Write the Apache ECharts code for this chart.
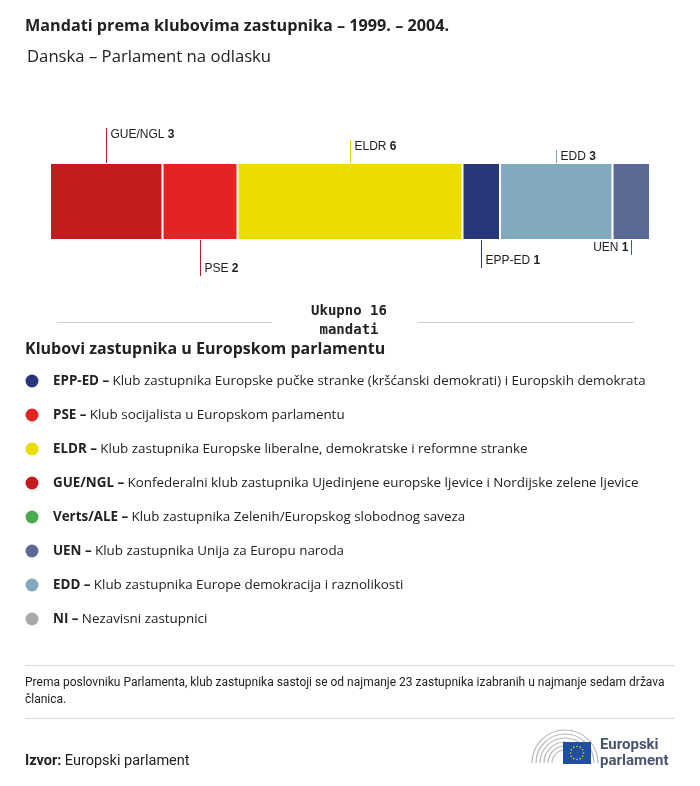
<!DOCTYPE html>
<html>
<head>
<meta charset="utf-8">
<script src="https://cdn.jsdelivr.net/npm/echarts@6/dist/echarts.min.js"></script>
<style>
html,body{margin:0;padding:0;background:#fff;}
#main{width:700px;height:786px;}
</style>
</head>
<body>
<div id="main"></div>
<script>
// ---- data ----
const parties = ['GUE/NGL', 'PSE', 'ELDR', 'EPP-ED', 'EDD', 'UEN'];
const seats = [3, 2, 6, 1, 3, 1];
const totalSeats = 16;

const legendCodes = ['EPP-ED', 'PSE', 'ELDR', 'GUE/NGL', 'Verts/ALE', 'UEN', 'EDD', 'NI'];
const legendNames = [
  'Klub zastupnika Europske pučke stranke (kršćanski demokrati) i Europskih demokrata',
  'Klub socijalista u Europskom parlamentu',
  'Klub zastupnika Europske liberalne, demokratske i reformne stranke',
  'Konfederalni klub zastupnika Ujedinjene europske ljevice i Nordijske zelene ljevice',
  'Klub zastupnika Zelenih/Europskog slobodnog saveza',
  'Klub zastupnika Unija za Europu naroda',
  'Klub zastupnika Europe demokracija i raznolikosti',
  'Nezavisni zastupnici'
];

// ---- styles ----
const partyColors = {
  'EPP-ED': '#28367b', 'PSE': '#e42424', 'ELDR': '#ebdd00', 'GUE/NGL': '#c21c1f',
  'Verts/ALE': '#4caa50', 'UEN': '#5a6a94', 'EDD': '#83a9bf', 'NI': '#aaaaaa'
};
const lineColors = ['#a8262e', '#a8262e', '#e2d21a', '#28367b', '#8aa2b3', '#4b5a7e'];
const labelSide = ['top', 'bottom', 'top', 'bottom', 'top', 'bottom'];
const leaderLen = [35, 36, 23, 28, 13, 15];
const labelAlign = ['left', 'left', 'left', 'left', 'left', 'right'];

const starts = [];
seats.reduce((acc, v, i) => { starts[i] = acc; return acc + v; }, 0);

const chart = echarts.init(document.getElementById('main'), null, {renderer: 'canvas'});

const barSeries = parties.map((p, i) => ({
  type: 'bar',
  name: p,
  stack: 'total',
  data: [seats[i]],
  barWidth: '100%',
  itemStyle: {color: partyColors[p], borderColor: '#fff', borderWidth: 1},
  silent: true,
  animation: false
}));

const labelSeries = {
  type: 'custom',
  silent: true,
  animation: false,
  data: parties.map((p, i) => [starts[i], seats[i], i]),
  renderItem: function (params, api) {
    const i = api.value(2);
    const mid = api.coord([api.value(0) + api.value(1) / 2, 0]);
    const cs = params.coordSys;
    const top = cs.y, bottom = cs.y + cs.height;
    const x = Math.round(mid[0]) + 0.5;
    let y1, y2, ty;
    if (labelSide[i] === 'top') {
      y1 = top - leaderLen[i]; y2 = top; ty = y1 + 7;
    } else {
      y1 = bottom; y2 = bottom + leaderLen[i]; ty = y2 - 7;
    }
    const align = labelAlign[i];
    const tx = align === 'left' ? x + 4 : x - 3;
    return {
      type: 'group',
      children: [
        {type: 'line', shape: {x1: x, y1: y1, x2: x, y2: y2},
         style: {stroke: lineColors[i], lineWidth: 1}},
        {type: 'text', x: tx, y: ty,
         style: {
           text: '{n|' + parties[i] + '} {b|' + seats[i] + '}',
           align: align, verticalAlign: 'middle',
           rich: {
             n: {fontFamily: 'Liberation Sans, Arial', fontSize: 12, fill: '#222'},
             b: {fontFamily: 'Liberation Sans, Arial', fontSize: 12, fontWeight: 'bold', fill: '#222'}
           }
         }}
      ]
    };
  }
};

const FONT = '"Open Sans", "Noto Sans", sans-serif';
const graphics = [];
graphics.push({type: 'text', left: 25, top: 18, style: {text: 'Mandati prema klubovima zastupnika – 1999. – 2004.', font: 'bold 16.2px ' + FONT, fill: '#222'}});
graphics.push({type: 'text', left: 27, top: 49, style: {text: 'Danska – Parlament na odlasku', font: '16.7px ' + FONT, fill: '#222'}});

// total
graphics.push({type: 'line', shape: {x1: 57, y1: 322.5, x2: 272, y2: 322.5}, style: {stroke: '#cfcfcf', lineWidth: 1}});
graphics.push({type: 'line', shape: {x1: 418, y1: 322.5, x2: 634, y2: 322.5}, style: {stroke: '#cfcfcf', lineWidth: 1}});
graphics.push({type: 'text', x: 349, y: 311, style: {text: 'Ukupno ' + totalSeats, font: 'bold 14px "DejaVu Sans Mono", monospace', fill: '#222', align: 'center', verticalAlign: 'middle'}});
graphics.push({type: 'text', x: 349, y: 330, style: {text: 'mandati', font: 'bold 14px "DejaVu Sans Mono", monospace', fill: '#222', align: 'center', verticalAlign: 'middle'}});

graphics.push({type: 'text', left: 25, top: 341, style: {text: 'Klubovi zastupnika u Europskom parlamentu', font: 'bold 16px ' + FONT, fill: '#222'}});

legendCodes.forEach((c, i) => {
  const y = 381 + i * 34;
  graphics.push({type: 'circle', shape: {cx: 32, cy: y, r: 6.5}, style: {fill: partyColors[c]}});
  graphics.push({type: 'text', x: 53, y: y, style: {
    text: '{b|' + c + ' –} {n|' + legendNames[i] + '}',
    verticalAlign: 'middle',
    rich: {
      b: {fontFamily: FONT, fontSize: 13.4, fontWeight: 'bold', fill: '#222'},
      n: {fontFamily: FONT, fontSize: 13.4, fill: '#222'}
    }
  }});
});

graphics.push({type: 'line', shape: {x1: 25, y1: 665.5, x2: 675, y2: 665.5}, style: {stroke: '#d8d8d8', lineWidth: 1}});
graphics.push({type: 'text', x: 25, y: 683, style: {text: 'Prema poslovniku Parlamenta, klub zastupnika sastoji se od najmanje 23 zastupnika izabranih u najmanje sedam država', font: '12px Roboto, sans-serif', fill: '#222', verticalAlign: 'middle'}});
graphics.push({type: 'text', x: 25, y: 700, style: {text: 'članica.', font: '12px Roboto, sans-serif', fill: '#222', verticalAlign: 'middle'}});
graphics.push({type: 'line', shape: {x1: 25, y1: 718.5, x2: 675, y2: 718.5}, style: {stroke: '#d8d8d8', lineWidth: 1}});
graphics.push({type: 'text', x: 25, y: 761, style: {
  text: '{b|Izvor:} {n|Europski parlament}', verticalAlign: 'middle',
  rich: {b: {fontFamily: 'Roboto', fontSize: 14.5, fontWeight: 'bold', fill: '#222'}, n: {fontFamily: 'Roboto', fontSize: 14.5, fill: '#222'}}
}});

// logo
for (let k = 0; k < 6; k++) {
  const r = 33 - k * 4;
  graphics.push({type: 'arc', shape: {cx: 565, cy: 763, r: r, startAngle: Math.PI, endAngle: Math.PI * 2}, style: {stroke: '#b5b8be', lineWidth: 1.2, fill: null}});
}
graphics.push({type: 'rect', shape: {x: 563, y: 742, width: 28, height: 22}, style: {fill: '#1f4fa3'}});
for (let s = 0; s < 12; s++) {
  const a = s * Math.PI / 6;
  graphics.push({type: 'circle', shape: {cx: 577 + 6.5 * Math.cos(a), cy: 753 + 6.5 * Math.sin(a), r: 0.8}, style: {fill: '#f4d000'}});
}
graphics.push({type: 'text', x: 600, y: 745, style: {text: 'Europski', font: 'bold 15px Roboto, sans-serif', fill: '#4a5572', verticalAlign: 'middle'}});
graphics.push({type: 'text', x: 600, y: 761, style: {text: 'parlament', font: 'bold 15px Roboto, sans-serif', fill: '#4a5572', verticalAlign: 'middle'}});

chart.setOption({
  animation: false,
  backgroundColor: '#fff',
  grid: {left: 50, right: 50, top: 163, height: 77, containLabel: false},
  xAxis: {type: 'value', min: 0, max: totalSeats, show: false},
  yAxis: {type: 'category', data: ['Danska'], show: false, boundaryGap: true},
  series: barSeries.concat([labelSeries]),
  graphic: graphics
});
</script>
</body>
</html>
